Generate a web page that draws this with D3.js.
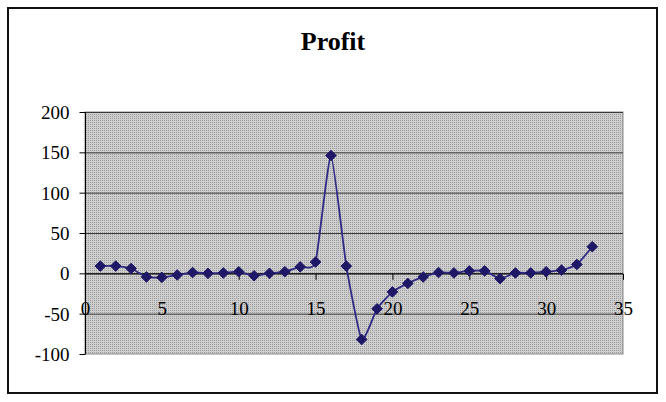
<!DOCTYPE html>
<html>
<head>
<meta charset="utf-8">
<script src="https://cdn.jsdelivr.net/npm/d3@7"></script>
<style>
  html, body { margin: 0; padding: 0; background: #fff; }
  svg { display: block; }
  .tick text { font-family: "Liberation Serif", "Times New Roman", serif; font-size: 19px; fill: #000; }
</style>
</head>
<body>
<svg id="chart" width="666" height="402"></svg>
<script>
const title = "Profit";
const xValues = [1,2,3,4,5,6,7,8,9,10,11,12,13,14,15,16,17,18,19,20,21,22,23,24,25,26,27,28,29,30,31,32,33];
const profit = [9,9,6,-4.5,-5,-2,1,0,0.5,2,-3,0,2,8,14,146,9,-82,-44,-23,-12.5,-4.5,1,0.5,3,3,-6.5,0.5,0.5,2,4,11,33];
const xTicks = [0,5,10,15,20,25,30,35];
const yTicks = [-100,-50,0,50,100,150,200];

const svg = d3.select("#chart");
const plot = { left: 85, right: 623, top: 112, bottom: 354 };

// outer border
svg.append("rect").attr("x", 8).attr("y", 8).attr("width", 649).attr("height", 385)
  .attr("fill", "#fff").attr("stroke", "#111").attr("stroke-width", 2);

// pattern
const defs = svg.append("defs");
const pat = defs.append("pattern").attr("id", "dots").attr("patternUnits", "userSpaceOnUse")
  .attr("width", 2).attr("height", 2);
pat.append("rect").attr("width", 2).attr("height", 2).attr("fill", "#cecece");
pat.append("rect").attr("width", 1).attr("height", 1).attr("fill", "#9c9c9c");

const x = d3.scaleLinear().domain([0, 35]).range([plot.left, plot.right]);
const y = d3.scaleLinear().domain([-100, 200]).range([plot.bottom, plot.top]);

svg.append("rect").attr("x", plot.left).attr("y", plot.top)
  .attr("width", plot.right - plot.left).attr("height", plot.bottom - plot.top)
  .attr("fill", "url(#dots)").attr("stroke", "#8a8a8a").attr("stroke-width", 1);

// gridlines
svg.append("g").selectAll("line").data(yTicks.filter(v => v !== -100)).join("line")
  .attr("x1", plot.left).attr("x2", plot.right)
  .attr("y1", d => y(d) + 0.5).attr("y2", d => y(d) + 0.5)
  .attr("stroke", "#3a3a3a").attr("stroke-width", 1);

// title
svg.append("text").attr("x", 333).attr("y", 50).attr("text-anchor", "middle")
  .attr("font-family", "'Liberation Serif', 'Times New Roman', serif")
  .attr("font-weight", "bold").attr("font-size", 26).text(title);

// y axis
const fmt = d => String(d);
const yAxis = svg.append("g").attr("transform", `translate(${plot.left + 0.5},0)`)
  .call(d3.axisLeft(y).tickValues(yTicks).tickSize(6).tickPadding(10).tickFormat(fmt));
yAxis.selectAll("path, line").attr("stroke", "#000");
yAxis.select(".domain").attr("d", `M0,${plot.top}V${plot.bottom}`);
yAxis.selectAll("text").attr("dy", "0.35em");

// x axis at y=0
const xAxis = svg.append("g").attr("transform", `translate(0,${y(0) + 0.5})`)
  .call(d3.axisBottom(x).tickValues(xTicks).tickSize(6).tickPadding(22).tickFormat(fmt));
xAxis.selectAll("path, line").attr("stroke", "#000");
xAxis.select(".domain").attr("d", `M${plot.left},0H${plot.right}`);

// line
const pts = xValues.map((v, i) => [v, profit[i]]);
const line = d3.line().x(d => x(d[0])).y(d => y(d[1])).curve(d3.curveCardinal.tension(0.5));
svg.append("path").datum(pts).attr("d", line)
  .attr("fill", "none").attr("stroke", "#2e2a85").attr("stroke-width", 1.8);

// markers
const sym = d3.symbol().type(d3.symbolDiamond2).size(72);
svg.append("g").selectAll("path").data(pts).join("path")
  .attr("transform", d => `translate(${x(d[0])},${y(d[1])})`)
  .attr("d", sym).attr("fill", "#1e1866").attr("stroke", "#1e1866").attr("stroke-width", 1);
</script>
</body>
</html>
